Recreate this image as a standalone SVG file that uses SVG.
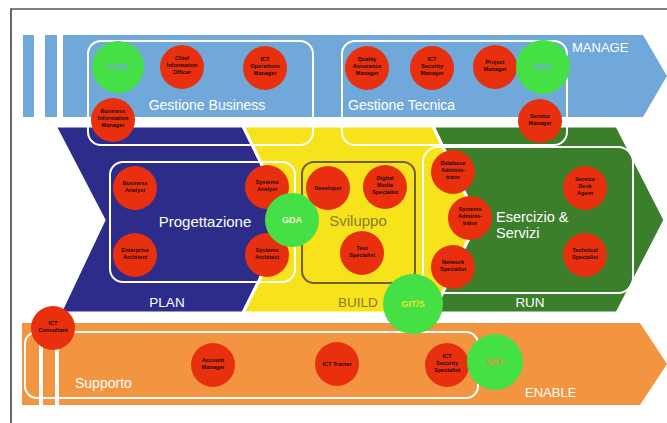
<svg xmlns="http://www.w3.org/2000/svg" width="667" height="423" viewBox="0 0 667 423">
<style>
.r{fill:#e8300f}
.g{fill:#45e045}
.rt{font-family:"Liberation Sans",Arial,sans-serif;font-size:5.6px;font-weight:bold;fill:#1a0a05;text-anchor:middle}
.gt{font-family:"Liberation Sans",Arial,sans-serif;font-size:9px;font-weight:bold;text-anchor:middle}
.lbl{font-family:"Liberation Sans",Arial,sans-serif;fill:#ffffff}
.box{fill:none;stroke:#ffffff;stroke-width:2}
.chev{stroke:#ffffff;stroke-width:3}
</style>
<rect width="667" height="423" fill="#ffffff"/>
<path d="M11,423 V9 H667" fill="none" stroke="#000" stroke-width="1.2"/>

<g id="manage">
<rect x="23" y="35" width="11" height="82" fill="#70a9d9"/>
<rect x="45" y="35" width="12" height="82" fill="#70a9d9"/>
<polygon points="63,35 643,35 667,76 643,117 63,117" fill="#70a9d9"/>
<text class="lbl" x="572" y="52" font-size="13">MANAGE</text>
</g>

<g id="plan">
<polygon class="chev" points="55,126 243,126 289,220 243,313 60,313 104,220" fill="#2d2c8a"/>
<text class="lbl" x="167" y="307" font-size="13.5" text-anchor="middle">PLAN</text>
</g>
<g id="build">
<polygon class="chev" points="243,126 433,126 478,220 433,313 243,313 289,220" fill="#f6e31c"/>
<text x="358" y="307" font-size="13.5" text-anchor="middle" font-family="Liberation Sans,Arial,sans-serif" fill="#8c7a2a">BUILD</text>
</g>
<g id="run">
<polygon class="chev" points="433,126 617,126 665,220 617,313 433,313 478,220" fill="#3b7f2b"/>
<text class="lbl" x="530" y="307" font-size="13.5" text-anchor="middle">RUN</text>
</g>

<g id="enable">
<polygon points="22,323 640,323 667,364 640,405 22,405" fill="#f29440"/>
<rect x="39" y="330" width="4" height="75" fill="#ffffff"/>
<rect x="55" y="330" width="4" height="75" fill="#ffffff"/>
<text class="lbl" x="525" y="397" font-size="13">ENABLE</text>
</g>

<g id="gestione-business">
<rect class="box" x="88" y="41" width="225" height="104" rx="13"/>
<text class="lbl" x="207" y="110" font-size="14" text-anchor="middle">Gestione Business</text>
</g>
<g id="gestione-tecnica">
<rect class="box" x="342" y="41" width="225" height="104" rx="13"/>
<text class="lbl" x="348" y="110" font-size="14">Gestione Tecnica</text>
</g>
<g id="progettazione">
<rect class="box" x="110" y="162" width="185" height="120" rx="13"/>
<text class="lbl" x="205" y="227" font-size="15" text-anchor="middle">Progettazione</text>
</g>
<g id="sviluppo">
<rect x="302" y="162" width="113" height="121" rx="12" fill="none" stroke="#6e6030" stroke-width="2"/>
<text x="358" y="226" font-size="15" text-anchor="middle" font-family="Liberation Sans,Arial,sans-serif" fill="#8c7a2a">Sviluppo</text>
</g>
<g id="esercizio">
<rect class="box" x="423" y="147" width="210" height="146" rx="15"/>
<text class="lbl" x="496" y="222" font-size="14.5">Esercizio &amp;</text>
<text class="lbl" x="496" y="238" font-size="14.5">Servizi</text>
</g>
<g id="supporto">
<rect class="box" x="25" y="332" width="453" height="66" rx="12"/>
<text class="lbl" x="75" y="388" font-size="14">Supporto</text>
</g>

<g id="chief-information-officer"><circle class="r" cx="182" cy="67" r="22"/><text class="rt" x="182" y="60">Chief</text><text class="rt" x="182" y="67">Information</text><text class="rt" x="182" y="74">Officer</text></g>
<g id="ict-operations-manager"><circle class="r" cx="265" cy="68" r="22"/><text class="rt" x="265" y="61">ICT</text><text class="rt" x="265" y="68">Operations</text><text class="rt" x="265" y="75">Manager</text></g>
<g id="business-information-manager"><circle class="r" cx="113" cy="120" r="22"/><text class="rt" x="113" y="113">Business</text><text class="rt" x="113" y="120">Information</text><text class="rt" x="113" y="127">Manager</text></g>
<g id="csm"><circle class="g" cx="118" cy="67" r="26"/><text class="gt" x="118" y="70" fill="#72b0d8">CSM</text></g>
<g id="quality-assurance-manager"><circle class="r" cx="367" cy="68" r="22"/><text class="rt" x="367" y="61">Quality</text><text class="rt" x="367" y="68">Assurance</text><text class="rt" x="367" y="75">Manager</text></g>
<g id="ict-security-manager"><circle class="r" cx="432" cy="68" r="22"/><text class="rt" x="432" y="61">ICT</text><text class="rt" x="432" y="68">Security</text><text class="rt" x="432" y="75">Manager</text></g>
<g id="project-manager"><circle class="r" cx="495" cy="67" r="22"/><text class="rt" x="495" y="64">Project</text><text class="rt" x="495" y="71">Manager</text></g>
<g id="spo"><circle class="g" cx="543" cy="67" r="27"/><text class="gt" x="543" y="70" fill="#72b0d8">SPO</text></g>
<g id="service-manager"><circle class="r" cx="540" cy="121" r="22"/><text class="rt" x="540" y="118">Service</text><text class="rt" x="540" y="125">Manager</text></g>

<g id="business-analyst"><circle class="r" cx="135" cy="188" r="22"/><text class="rt" x="135" y="185">Business</text><text class="rt" x="135" y="192">Analyst</text></g>
<g id="enterprise-architect"><circle class="r" cx="135" cy="255" r="22"/><text class="rt" x="135" y="252">Enterprise</text><text class="rt" x="135" y="259">Architect</text></g>
<g id="systems-analyst"><circle class="r" cx="267" cy="187" r="22"/><text class="rt" x="267" y="184">Systems</text><text class="rt" x="267" y="191">Analyst</text></g>
<g id="systems-architect"><circle class="r" cx="267" cy="255" r="22"/><text class="rt" x="267" y="252">Systems</text><text class="rt" x="267" y="259">Architect</text></g>
<g id="gda"><circle class="g" cx="292" cy="220" r="27"/><text class="gt" x="292" y="223" fill="#f4f0d0">GDA</text></g>
<g id="developer"><circle class="r" cx="328" cy="188" r="22"/><text class="rt" x="328" y="190">Developer</text></g>
<g id="digital-media-specialist"><circle class="r" cx="385" cy="187" r="22"/><text class="rt" x="385" y="180">Digital</text><text class="rt" x="385" y="187">Media</text><text class="rt" x="385" y="194">Specialist</text></g>
<g id="test-specialist"><circle class="r" cx="362" cy="253" r="22"/><text class="rt" x="362" y="250">Test</text><text class="rt" x="362" y="257">Specialist</text></g>
<g id="database-administrator"><circle class="r" cx="453" cy="172" r="22"/><text class="rt" x="453" y="165">Database</text><text class="rt" x="453" y="172">Adminis-</text><text class="rt" x="453" y="179">trator</text></g>
<g id="systems-administrator"><circle class="r" cx="470" cy="218" r="22"/><text class="rt" x="470" y="211">Systems</text><text class="rt" x="470" y="218">Adminis-</text><text class="rt" x="470" y="225">trator</text></g>
<g id="network-specialist"><circle class="r" cx="453" cy="267" r="22"/><text class="rt" x="453" y="264">Network</text><text class="rt" x="453" y="271">Specialist</text></g>
<g id="service-desk-agent"><circle class="r" cx="585" cy="188" r="22"/><text class="rt" x="585" y="181">Service</text><text class="rt" x="585" y="188">Desk</text><text class="rt" x="585" y="195">Agent</text></g>
<g id="technical-specialist"><circle class="r" cx="585" cy="255" r="22"/><text class="rt" x="585" y="252">Technical</text><text class="rt" x="585" y="259">Specialist</text></g>
<g id="gits"><circle class="g" cx="413" cy="304" r="30"/><text class="gt" x="413" y="307" fill="#f2e030">GIT/S</text></g>

<g id="ict-consultant"><circle class="r" cx="53" cy="328" r="22"/><text class="rt" x="53" y="325">ICT</text><text class="rt" x="53" y="332">Consultant</text></g>
<g id="account-manager"><circle class="r" cx="213" cy="365" r="22"/><text class="rt" x="213" y="362">Account</text><text class="rt" x="213" y="369">Manager</text></g>
<g id="ict-trainer"><circle class="r" cx="337" cy="364" r="22"/><text class="rt" x="337" y="366">ICT Trainer</text></g>
<g id="ict-security-specialist"><circle class="r" cx="447" cy="365" r="22"/><text class="rt" x="447" y="358">ICT</text><text class="rt" x="447" y="365">Security</text><text class="rt" x="447" y="372">Specialist</text></g>
<g id="sst"><circle class="g" cx="495" cy="362" r="28"/><text class="gt" x="495" y="365" fill="#f08a3a">SST</text></g>

<g id="connectors"/>
</svg>
